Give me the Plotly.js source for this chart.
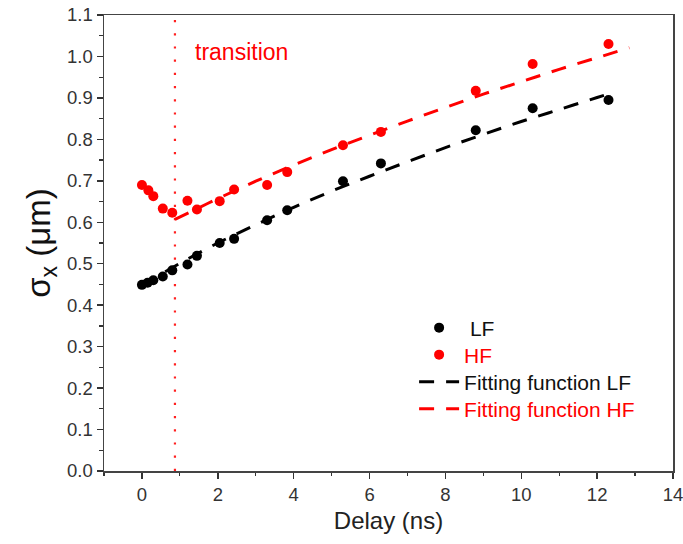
<!DOCTYPE html>
<html>
<head>
<meta charset="utf-8">
<script src="https://cdn.plot.ly/plotly-3.0.1.min.js"></script>
<style>html,body{margin:0;padding:0;background:#fff}#chart{width:683px;height:544px}</style>
</head>
<body>
<div id="chart"></div>
<script>
// Measured data (Delay in ns, sigma_x in µm)
const delayLF = [0, 0.15, 0.3, 0.55, 0.8, 1.2, 1.45, 2.05, 2.43, 3.3, 3.83, 5.3, 6.3, 8.8, 10.3, 12.3];
const sigmaLF = [0.449, 0.454, 0.460, 0.469, 0.484, 0.498, 0.519, 0.550, 0.560, 0.605, 0.629, 0.699, 0.742, 0.822, 0.875, 0.895];
const delayHF = [0, 0.17, 0.3, 0.55, 0.8, 1.2, 1.45, 2.05, 2.43, 3.3, 3.83, 5.3, 6.3, 8.8, 10.3, 12.3];
const sigmaHF = [0.690, 0.677, 0.663, 0.633, 0.623, 0.652, 0.631, 0.651, 0.679, 0.690, 0.721, 0.786, 0.818, 0.917, 0.982, 1.030];

// Fitting curves
const fitLFx = [0, 1, 2, 3, 4, 5, 6, 7, 8, 9, 10, 11, 12, 12.35];
const fitLFy = [0.447, 0.501, 0.550, 0.594, 0.636, 0.675, 0.711, 0.746, 0.780, 0.812, 0.843, 0.872, 0.901, 0.911];
const fitHFx = [0.87, 1.5, 2, 3, 4, 5, 6, 7, 8, 9, 10, 11, 12, 12.85];
const fitHFy = [0.607, 0.635, 0.657, 0.699, 0.738, 0.775, 0.810, 0.844, 0.877, 0.909, 0.939, 0.969, 0.997, 1.021];

// Transition marker
const transitionX = [0.87, 0.87];
const transitionY = [0, 1.1];

const xTickVals = [0, 2, 4, 6, 8, 10, 12, 14];
const yTickVals = [0, 0.1, 0.2, 0.3, 0.4, 0.5, 0.6, 0.7, 0.8, 0.9, 1.0, 1.1];

const FONT = 'Arial, "Liberation Sans", sans-serif';

const traces = [
  {x: transitionX, y: transitionY, mode: 'lines', showlegend: false, hoverinfo: 'skip',
   line: {color: '#ff2020', width: 2.2, dash: '2.2px,11px'}},
  {x: fitLFx, y: fitLFy, mode: 'lines', name: 'Fitting function LF', legend: 'legend3',
   line: {color: '#000', width: 3, dash: '15px,12px', shape: 'spline'}},
  {x: fitHFx, y: fitHFy, mode: 'lines', name: 'Fitting function HF', legend: 'legend4',
   line: {color: '#ff0000', width: 3, dash: '15px,12px', shape: 'spline'}},
  {x: delayLF, y: sigmaLF, mode: 'markers', name: ' LF', legend: 'legend',
   marker: {color: '#000', size: 10}},
  {x: delayHF, y: sigmaHF, mode: 'markers', name: 'HF', legend: 'legend2',
   marker: {color: '#ff0000', size: 10}}
];

function leg(yc, color) {
  return {x: 0.545, y: yc, xanchor: 'left', yanchor: 'middle', font: {size: 21, color: color, family: FONT},
          bgcolor: 'rgba(0,0,0,0)', itemwidth: 40, borderwidth: 0};
}

const layout = {
  width: 683, height: 544,
  margin: {l: 104, r: 10, t: 15, b: 73},
  paper_bgcolor: '#fff', plot_bgcolor: '#fff',
  font: {family: FONT, color: '#222', size: 17},
  showlegend: true,
  legend: leg((471 - 328) / 456, '#111'),
  legend2: leg((471 - 355) / 456, '#ff0000'),
  legend3: leg((471 - 382) / 456, '#111'),
  legend4: leg((471 - 409) / 456, '#ff0000'),
  xaxis: {
    range: [-1, 14], tickvals: xTickVals, ticks: 'outside', ticklen: 6, tickwidth: 1.5, tickcolor: '#333',
    showline: true, linecolor: '#444', linewidth: 1.5, mirror: true, showgrid: false, zeroline: false,
    ticklabeloverflow: 'allow',
    minor: {dtick: 1, tick0: 0, ticks: 'outside', ticklen: 3.5, tickwidth: 1.2, tickcolor: '#333', showgrid: false},
    title: {text: 'Delay (ns)', font: {size: 24, color: '#222'}, standoff: 8},
    tickfont: {size: 18.5, color: '#333'}
  },
  yaxis: {
    range: [0, 1.1], tickvals: yTickVals, tickformat: '.1f', ticks: 'outside', ticklen: 6, tickwidth: 1.5, tickcolor: '#333',
    showline: true, linecolor: '#444', linewidth: 1.5, mirror: true, showgrid: false, zeroline: false,
    minor: {dtick: 0.05, tick0: 0, ticks: 'outside', ticklen: 3.5, tickwidth: 1.2, tickcolor: '#333', showgrid: false},
    title: {text: 'σ<sub>x</sub> (μm)', font: {size: 33, color: '#111'}, standoff: 6},
    tickfont: {size: 18.5, color: '#333'}
  },
  annotations: [
    {x: 1.35, y: 1.01, xref: 'x', yref: 'y', text: 'transition', showarrow: false, xanchor: 'left', yanchor: 'middle',
     font: {size: 23, color: '#ff0000', family: FONT}}
  ]
};

Plotly.newPlot('chart', traces, layout, {displayModeBar: false, staticPlot: true});
</script>
</body>
</html>
